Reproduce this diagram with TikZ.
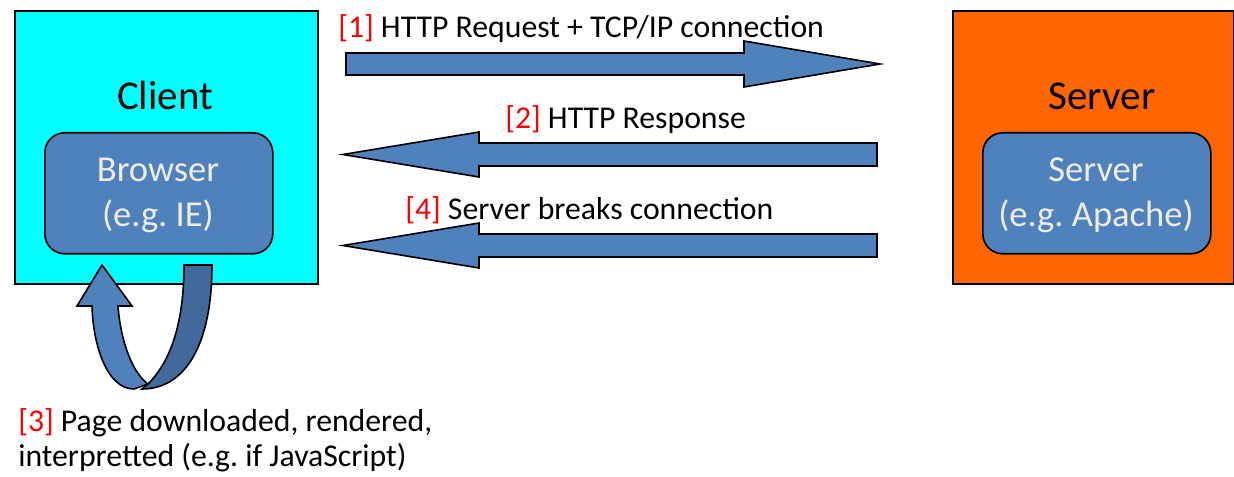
\documentclass[tikz,border=0pt]{standalone}
\usepackage{fontspec}
\setmainfont{Carlito}
\frenchspacing
\definecolor{clientcyan}{HTML}{00FFFF}
\definecolor{serverorange}{HTML}{FF6600}
\definecolor{accentblue}{HTML}{4F81BD}
\definecolor{darkband}{HTML}{41699B}
\definecolor{innertext}{HTML}{EEECE1}
\definecolor{labelred}{HTML}{FF0000}
\newcommand{\lblfont}{\fontsize{23.8pt}{28pt}\selectfont}
\newcommand{\titlefont}{\fontsize{30.7pt}{36pt}\selectfont}
\newcommand{\innerfont}{\fontsize{27.4pt}{33pt}\selectfont}
\begin{document}
\begin{tikzpicture}[x=0.75pt,y=-0.75pt,
  outerbox/.style={draw=black,line width=1.5pt,inner sep=0pt,anchor=north west},
  innerbox/.style={draw=black,line width=1.2pt,fill=accentblue,rounded corners=15pt,inner sep=0pt,anchor=north west,minimum width=171pt,minimum height=90.75pt},
  blockarrow/.style={draw=black,line width=1.2pt,fill=accentblue,line join=miter},
  lbl/.style={anchor=base west,font=\lblfont,inner sep=0pt,text=black},
  ttl/.style={anchor=base,font=\titlefont,inner sep=0pt,text=black},
  inn/.style={anchor=base,font=\innerfont,inner sep=0pt,text=innertext}]
\useasboundingbox (0,0) rectangle (1234,477);
\fill[white] (0,0) rectangle (1234,477);

% boxes
\node (client) [outerbox,fill=clientcyan,minimum width=227.25pt,minimum height=204.75pt] at (14,10) {};
\node (server) [outerbox,fill=serverorange,minimum width=210.75pt,minimum height=204.75pt] at (952,10) {};
\node (browser) [innerbox] at (44,132) {};
\node (apache) [innerbox] at (982,132) {};

\node (clientttl) [ttl] at (165,110) {Client};
\node (serverttl) [ttl] at (1102,110) {Server};
\node (browser1) [inn] at (158,182) {Browser};
\node (browser2) [inn] at (158,227) {(e.g. IE)};
\node (apache1) [inn] at (1096,182) {Server};
\node (apache2) [inn] at (1096,227) {(e.g. Apache)};

% block arrows
\coordinate (a1t) at (880,64);
\draw[blockarrow] (346,53) -- (744,53) -- (744,41) -- (a1t) -- (744,87) -- (744,75) -- (346,75) -- cycle;
\coordinate (a2t) at (343,154.5);
\draw[blockarrow] (877,143) -- (479,143) -- (479,132) -- (a2t) -- (479,177) -- (479,166) -- (877,166) -- cycle;
\coordinate (a4t) at (343,245.5);
\draw[blockarrow] (877,234) -- (479,234) -- (479,223) -- (a4t) -- (479,268) -- (479,257) -- (877,257) -- cycle;

% labels
\node (l1) [lbl] at (338,38) {\textcolor{labelred}{[1]} HTTP Request + TCP/IP connection};
\node (l2) [lbl] at (505,129) {\textcolor{labelred}{[2]} HTTP Response};
\node (l4) [lbl] at (405,220) {\textcolor{labelred}{[4]} Server breaks connection};
\node (l3a) [lbl] at (18,431) {\textcolor{labelred}{[3]} Page downloaded, rendered,};
\node (l3b) [lbl] at (18,466) {interpretted (e.g. if JavaScript)};

% U-turn arrow
\draw[line width=1.2pt,fill=accentblue,line join=miter]
  (118,306) .. controls (121,345) and (134,374) .. (148,384)
  -- (134,389) .. controls (107,389) and (93,345) .. (92,306)
  -- (77,306) -- (102,265) -- (132,306) -- cycle;
\draw[line width=1.2pt,fill=darkband,line join=miter]
  (184,265) -- (212,265) .. controls (212,345) and (185,389) .. (142,389)
  -- (148,384) .. controls (172,360) and (184,320) .. (184,265) -- cycle;
\end{tikzpicture}
\end{document}
